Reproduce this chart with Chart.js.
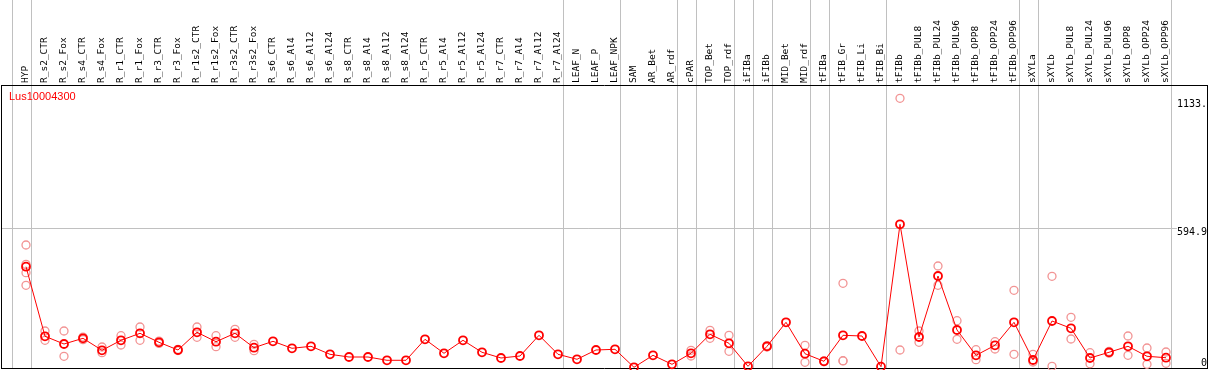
<!DOCTYPE html>
<html>
<head>
<meta charset="utf-8">
<script src="https://cdn.jsdelivr.net/npm/chart.js@4.4.1/dist/chart.umd.min.js"></script>
<style>
  html, body { margin: 0; padding: 0; background: #ffffff; }
  canvas { display: block; }
</style>
</head>
<body>
<canvas id="c" width="1209" height="370"></canvas>
<script>
const geneName = 'Lus10004300';

const categories = [
  'HYP','R_s2_CTR','R_s2_Fox','R_s4_CTR','R_s4_Fox','R_r1_CTR','R_r1_Fox','R_r3_CTR','R_r3_Fox',
  'R_r1s2_CTR','R_r1s2_Fox','R_r3s2_CTR','R_r3s2_Fox','R_s6_CTR','R_s6_Al4','R_s6_Al12','R_s6_Al24',
  'R_s8_CTR','R_s8_Al4','R_s8_Al12','R_s8_Al24','R_r5_CTR','R_r5_Al4','R_r5_Al12','R_r5_Al24',
  'R_r7_CTR','R_r7_Al4','R_r7_Al12','R_r7_Al24','LEAF_N','LEAF_P','LEAF_NPK','SAM','AR_Bet','AR_rdf',
  'cPAR','TOP_Bet','TOP_rdf','iFIBa','iFIBb','MID_Bet','MID_rdf','tFIBa','tFIB_Gr','tFIB_Li','tFIB_Bi',
  'tFIBb','tFIBb_PUL8','tFIBb_PUL24','tFIBb_PUL96','tFIBb_OPP8','tFIBb_OPP24','tFIBb_OPP96',
  'sXYLa','sXYLb','sXYLb_PUL8','sXYLb_PUL24','sXYLb_PUL96','sXYLb_OPP8','sXYLb_OPP24','sXYLb_OPP96'
];

const means = [
  432.3, 138.2, 105.6, 129.7, 79.0, 121.3, 150.8, 112.8, 80.3,
  155.1, 115.4, 150.8, 90.0, 117.0, 87.5, 95.9, 62.1,
  50.7, 50.7, 36.8, 36.8, 125.5, 66.3, 121.3, 70.6,
  46.5, 54.9, 142.4, 62.1, 41.0, 80.3, 83.2, 7.2, 57.9, 19.9,
  66.3, 146.6, 108.6, 11.4, 95.9, 197.3, 64.6, 32.5, 142.4, 139.4, 9.7,
  611.4, 135.2, 393.0, 164.8, 57.9, 100.1, 197.3,
  38.0, 202.8, 172.0, 46.5, 70.6, 95.9, 53.7, 47.7
];

const replicates = [
  [524.0, 442.4, 406.9, 353.7], [160.6, 121.3], [160.6, 53.7], [135, 124], [93.0, 68.9],
  [140.7, 101.4], [177.5, 121.3], [118, 108], [83, 78],
  [177.5, 133.9], [140.7, 94.2], [167.7, 133.9], [104.4, 77.3], [], [], [], [],
  [], [], [], [], [], [], [], [],
  [], [], [], [], [], [], [], [], [], [],
  [79.0, 54.9], [163.5, 129.7], [142.4, 74.8], [], [99, 93], [], [100.1, 28.3], [34, 31],
  [362.1, 35.1, 34], [], [],
  [1143.8, 80.3], [160.6, 112.8], [435.2, 353.7], [204.1, 125.5], [81.6, 39.3], [115.4, 84.5], [332.5, 62.1],
  [62.1, 29.6], [391.7, 11.4], [218.5, 126.8], [68.9, 22.4], [74, 67], [139.4, 57.9], [88.7, 19.9], [71.8, 24.1]
];

const groupSeparators = [-1, 0, 28, 31, 34, 35, 37, 38, 39, 41, 42, 45, 52, 53, 60];
const yTickValues = [0, 594.9, 1133];
const yTickLabels = ['0', '594.9', '1133.'];
const yGridValues = [594.9];

const meanPoints = means.map((v, i) => ({ x: i, y: v }));
const repPoints = [];
replicates.forEach((arr, i) => arr.forEach(v => repPoints.push({ x: i, y: v })));

const MONO = '"DejaVu Sans Mono", monospace';
const LABEL_SIZE = 9.5;
const LABEL_LH = 1.2;
const YLABEL_FONT = '10px ' + MONO;

const framePlugin = {
  id: 'frame',
  beforeDatasetsDraw(chart) {
    const { ctx, chartArea: a, scales: { x, y } } = chart;
    ctx.save();
    ctx.lineWidth = 1;
    ctx.strokeStyle = '#c0c0c0';
    groupSeparators.forEach(i => {
      const px = Math.round(x.getPixelForValue(i + 0.25)) + 0.5;
      ctx.beginPath(); ctx.moveTo(px, 0); ctx.lineTo(px, a.bottom); ctx.stroke();
    });
    ctx.font = YLABEL_FONT;
    yGridValues.forEach(v => {
      const py = Math.round(y.getPixelForValue(v)) + 0.5;
      const w = ctx.measureText(yTickLabels[yTickValues.indexOf(v)] || '').width;
      ctx.beginPath(); ctx.moveTo(a.left, py); ctx.lineTo(a.right - 1 - w, py); ctx.stroke();
    });
    ctx.strokeStyle = '#000000';
    ctx.beginPath();
    ctx.moveTo(a.left + 0.5, Math.round(a.top) + 0.5);
    ctx.lineTo(a.right - 0.5, Math.round(a.top) + 0.5);
    ctx.moveTo(a.left + 0.5, a.bottom - 0.5);
    ctx.lineTo(a.right - 0.5, a.bottom - 0.5);
    ctx.moveTo(a.left + 0.5, Math.round(a.top));
    ctx.lineTo(a.left + 0.5, a.bottom);
    ctx.moveTo(a.right - 0.5, Math.round(a.top));
    ctx.lineTo(a.right - 0.5, a.bottom);
    ctx.stroke();
    ctx.restore();
  },
  afterDatasetsDraw(chart) {
    const { ctx, chartArea: a, scales: { y } } = chart;
    ctx.save();
    ctx.font = YLABEL_FONT;
    ctx.fillStyle = '#000000';
    ctx.textAlign = 'right';
    ctx.textBaseline = 'top';
    yTickValues.forEach((v, k) => {
      const py = Math.min(y.getPixelForValue(v) - 1, a.bottom - 11);
      ctx.fillText(yTickLabels[k], a.right - 1, py);
    });
    ctx.font = '11px "Liberation Sans", Arial, sans-serif';
    ctx.fillStyle = '#ff0000';
    ctx.textAlign = 'left';
    ctx.textBaseline = 'middle';
    ctx.fillText(geneName, a.left + 8, a.top + 12);
    ctx.restore();
  }
};

new Chart(document.getElementById('c').getContext('2d'), {
  type: 'line',
  data: {
    datasets: [
      {
        label: geneName,
        data: meanPoints,
        borderColor: '#ff0000',
        borderWidth: 1,
        pointRadius: 4,
        pointBorderWidth: 1.8,
        pointBorderColor: '#ff0000',
        pointBackgroundColor: 'rgba(0,0,0,0)',
        tension: 0,
        clip: false,
        order: 0
      },
      {
        label: 'replicates',
        type: 'scatter',
        data: repPoints,
        showLine: false,
        pointRadius: 4,
        pointBorderWidth: 1.3,
        pointBorderColor: '#f29494',
        pointBackgroundColor: 'rgba(0,0,0,0)',
        clip: false,
        order: 1
      }
    ]
  },
  options: {
    responsive: false,
    animation: false,
    layout: { autoPadding: false, padding: { left: 1, right: 1, top: 0, bottom: 1 } },
    plugins: { legend: { display: false }, tooltip: { enabled: false } },
    scales: {
      x: {
        type: 'linear',
        position: 'top',
        min: -25 / 19,
        max: -25 / 19 + 1207 / 19,
        grid: { display: false, drawTicks: false },
        border: { display: false },
        afterBuildTicks: s => { s.ticks = categories.map((c, i) => ({ value: i })); },
        afterFit: s => {
          s.height = 85;
          s.paddingLeft = 0; s.paddingRight = 0; s.paddingTop = 0; s.paddingBottom = 0;
        },
        ticks: {
          autoSkip: false,
          minRotation: 90,
          maxRotation: 90,
          padding: 2,
          labelOffset: LABEL_SIZE * LABEL_LH,
          color: '#000000',
          font: { family: MONO, size: LABEL_SIZE, lineHeight: LABEL_LH },
          callback: v => categories[v]
        }
      },
      y: { display: false, min: 0, max: 1200 }
    }
  },
  plugins: [framePlugin]
});
</script>
</body>
</html>
